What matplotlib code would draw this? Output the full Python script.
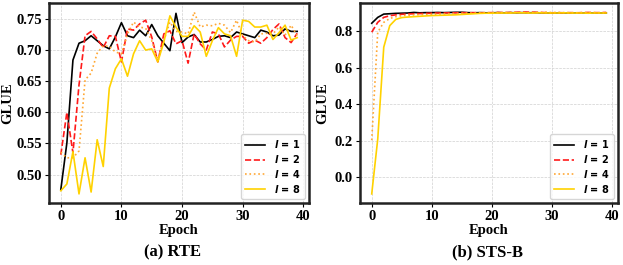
import matplotlib.pyplot as plt
import numpy as np

plt.rcParams['font.family'] = ['Liberation Serif', 'DejaVu Serif']
plt.rcParams['font.weight'] = 'bold'
plt.rcParams['mathtext.fontset'] = 'dejavusans'

epochs = np.arange(40)
labels = [r'$\mathbfit{l}$ = 1', r'$\mathbfit{l}$ = 2',
          r'$\mathbfit{l}$ = 4', r'$\mathbfit{l}$ = 8']

# RTE
rte_l1 = [0.476, 0.551, 0.684, 0.711, 0.715, 0.723, 0.715, 0.707, 0.702, 0.721,
          0.744, 0.723, 0.720, 0.732, 0.723, 0.741, 0.723, 0.711, 0.699, 0.759,
          0.712, 0.721, 0.725, 0.713, 0.713, 0.717, 0.722, 0.723, 0.720, 0.729,
          0.726, 0.723, 0.720, 0.732, 0.729, 0.723, 0.724, 0.734, 0.730, 0.730]
rte_l2 = [0.532, 0.600, 0.535, 0.644, 0.723, 0.730, 0.718, 0.704, 0.723, 0.722,
          0.681, 0.734, 0.732, 0.742, 0.748, 0.721, 0.681, 0.726, 0.731, 0.710,
          0.715, 0.679, 0.726, 0.710, 0.700, 0.729, 0.726, 0.705, 0.716, 0.722,
          0.722, 0.711, 0.716, 0.711, 0.720, 0.733, 0.742, 0.720, 0.712, 0.727]
rte_l4 = [0.536, 0.527, 0.527, 0.538, 0.652, 0.663, 0.695, 0.707, 0.706, 0.697,
          0.694, 0.726, 0.745, 0.737, 0.735, 0.715, 0.685, 0.715, 0.745, 0.730,
          0.729, 0.726, 0.761, 0.737, 0.740, 0.739, 0.743, 0.740, 0.728, 0.748,
          0.723, 0.715, 0.713, 0.726, 0.727, 0.726, 0.737, 0.724, 0.740, 0.723]
rte_l8 = [0.474, 0.485, 0.537, 0.469, 0.527, 0.472, 0.556, 0.513, 0.639, 0.670,
          0.686, 0.658, 0.694, 0.715, 0.700, 0.702, 0.681, 0.713, 0.755, 0.737,
          0.722, 0.722, 0.739, 0.729, 0.690, 0.715, 0.736, 0.726, 0.723, 0.690,
          0.748, 0.746, 0.737, 0.737, 0.740, 0.717, 0.728, 0.740, 0.716, 0.720]

# STS-B
sts_l1 = [0.844, 0.876, 0.894, 0.896, 0.898, 0.899, 0.900, 0.903, 0.901, 0.902,
          0.902, 0.903, 0.902, 0.903, 0.904, 0.904, 0.902, 0.901, 0.902, 0.901,
          0.901, 0.902, 0.901, 0.902, 0.901, 0.902, 0.901, 0.902, 0.901, 0.900,
          0.899, 0.900, 0.901, 0.900, 0.901, 0.900, 0.899, 0.900, 0.900, 0.900]
sts_l2 = [0.795, 0.849, 0.876, 0.885, 0.890, 0.893, 0.895, 0.896, 0.897, 0.898,
          0.899, 0.900, 0.900, 0.901, 0.901, 0.902, 0.901, 0.902, 0.901, 0.902,
          0.902, 0.903, 0.902, 0.903, 0.904, 0.905, 0.905, 0.904, 0.903, 0.902,
          0.901, 0.902, 0.901, 0.902, 0.901, 0.902, 0.903, 0.902, 0.902, 0.903]
sts_l4 = [0.204, 0.795, 0.849, 0.870, 0.880, 0.885, 0.888, 0.890, 0.891, 0.892,
          0.893, 0.894, 0.895, 0.896, 0.897, 0.898, 0.899, 0.899, 0.900, 0.900,
          0.901, 0.901, 0.902, 0.902, 0.903, 0.903, 0.902, 0.903, 0.903, 0.904,
          0.902, 0.903, 0.902, 0.902, 0.901, 0.902, 0.901, 0.902, 0.901, 0.901]
sts_l8 = [-0.090, 0.210, 0.713, 0.831, 0.865, 0.875, 0.878, 0.880, 0.882, 0.884,
          0.886, 0.887, 0.888, 0.889, 0.890, 0.892, 0.894, 0.896, 0.898, 0.899,
          0.899, 0.900, 0.900, 0.900, 0.901, 0.901, 0.900, 0.900, 0.901, 0.900,
          0.900, 0.900, 0.901, 0.900, 0.900, 0.900, 0.899, 0.900, 0.900, 0.900]

colors = ['black', '#ff1a1a', '#ffa733', '#ffd200']
styles = ['-', '--', ':', '-']

fig = plt.figure(figsize=(6.23, 2.65), dpi=100)
ax1 = fig.add_axes([49/623, 1-203/265, 260/623, 200/265])
ax2 = fig.add_axes([360/623, 1-203/265, 258/623, 200/265])

panels = [(ax1, [rte_l1, rte_l2, rte_l4, rte_l8], '(a) RTE', 173, -0.135),
          (ax2, [sts_l1, sts_l2, sts_l4, sts_l8], '(b) STS-B', 487, -0.12)]

for ax, series, title, cx, ylx in panels:
    for vals, c, ls, lab in zip(series, colors, styles, labels):
        ax.plot(epochs, vals, color=c, linestyle=ls, linewidth=1.2, label=lab)
    ax.grid(True, linestyle='--', linewidth=0.5, color='#d0d0d0')
    ax.set_xticks([0, 10, 20, 30, 40])
    ax.tick_params(labelsize=10.5, length=3, width=0.8, pad=2)
    for s in ax.spines.values():
        s.set_linewidth(1.8)
        s.set_color('#222222')
    ax.set_xlabel('Epoch', fontsize=10.5, fontweight='bold', labelpad=1)
    ax.set_ylabel('GLUE', fontsize=10.5, fontweight='bold')
    ax.yaxis.set_label_coords(ylx, 0.5)
    ax.legend(loc='lower right', handlelength=2.1, labelspacing=0.3,
              borderpad=0.45, handletextpad=0.9, borderaxespad=0.4,
              prop={'family': 'DejaVu Sans', 'weight': 'bold', 'size': 7})
    fig.text(cx/623, 1-252/265, title, ha='center', va='center',
             fontsize=12, fontweight='bold')

ax1.set_yticks([0.50, 0.55, 0.60, 0.65, 0.70, 0.75])
ax2.set_yticks([0.0, 0.2, 0.4, 0.6, 0.8])

fig.savefig('out.png', dpi=100)
